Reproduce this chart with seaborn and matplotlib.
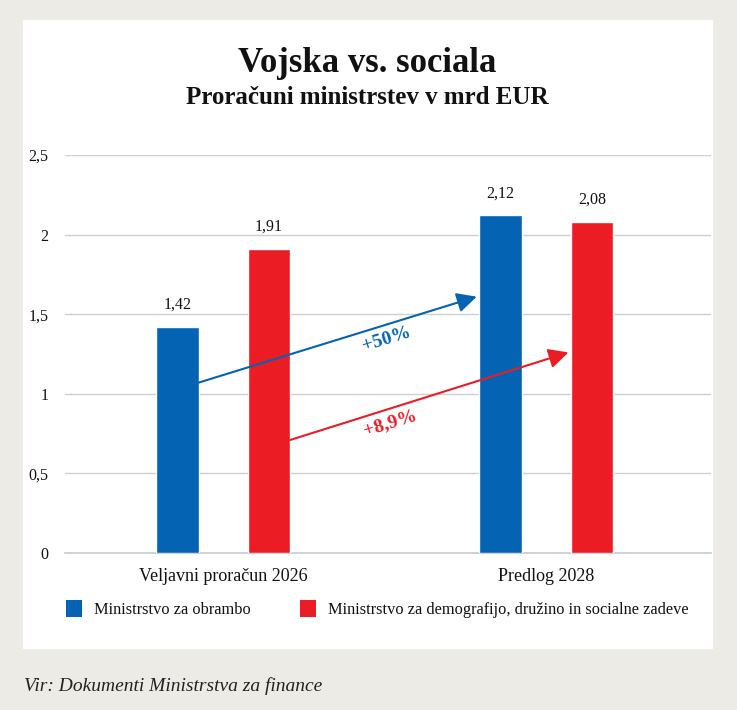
import matplotlib
matplotlib.use("Agg")
import matplotlib.pyplot as plt
from matplotlib.patches import Rectangle, Patch
import seaborn as sns
import pandas as pd

categories = ["Veljavni proračun 2026", "Predlog 2028"]
series_names = ["Ministrstvo za obrambo",
                "Ministrstvo za demografijo, družino in socialne zadeve"]
defence = [1.42, 2.12]
social = [1.91, 2.08]
changes = ["+50%", "+8,9%"]
yticks = [0, 0.5, 1, 1.5, 2, 2.5]
ytick_labels = ["0", "0,5", "1", "1,5", "2", "2,5"]

BLUE = "#0463b3"
RED = "#ec1c24"
BG = "#ecebe6"
SERIF = ["Liberation Serif", "DejaVu Serif"]

sns.set_theme(style="white")
plt.rcParams["font.family"] = SERIF

df = pd.DataFrame({
    "cat": categories * 2,
    "val": defence + social,
    "series": [series_names[0]] * 2 + [series_names[1]] * 2,
})

W, H = 737, 710
fig = plt.figure(figsize=(W / 100, H / 100), dpi=100, facecolor=BG)
# white panel
fig.patches.append(Rectangle((23 / W, 1 - 649 / H), (713 - 23) / W, (649 - 20) / H,
                             transform=fig.transFigure, facecolor="white",
                             edgecolor="none", zorder=-10))

ax = fig.add_axes([65 / W, 1 - 553 / H, (711 - 65) / W, (553 - 155) / H])
ax.set_zorder(1)
ax.set_facecolor("none")
sns.barplot(data=df, x="cat", y="val", hue="series", order=categories,
            hue_order=series_names, palette=[BLUE, RED], width=0.568, gap=0.54,
            saturation=1, ax=ax, legend=False, zorder=3)

ax.set_xlim(-0.49, 1.51)
ax.set_ylim(0, 2.5)
ax.set_yticks(yticks)
ax.set_yticklabels(ytick_labels)
ax.yaxis.grid(True, color="#cfcfcf", linewidth=1)
ax.set_axisbelow(True)
for s in ["top", "right", "left"]:
    ax.spines[s].set_visible(False)
ax.spines["bottom"].set_color("#c5cad3")
ax.spines["bottom"].set_linewidth(1.2)
ax.tick_params(axis="y", length=0, pad=12, labelsize=11.5, labelcolor="#111111")
ax.tick_params(axis="x", length=0, pad=11, labelsize=13, labelcolor="#111111")
ax.set_xlabel("")
ax.set_ylabel("")

# value labels
for cont in ax.containers:
    for bar in cont:
        h = bar.get_height()
        ax.text(bar.get_x() + bar.get_width() / 2, h + 0.09,
                f"{h:.2f}".replace(".", ","), ha="center", va="bottom",
                fontsize=11.5, color="#111111")

# change arrows
blue_bars = ax.containers[0]
red_bars = ax.containers[1]
b0, b1 = blue_bars[0], blue_bars[1]
r0, r1 = red_bars[0], red_bars[1]
ax.annotate("", xy=(b1.get_x() - 0.008, 1.61), xytext=(b0.get_x() + b0.get_width(), 1.07),
            arrowprops=dict(arrowstyle="-|>,head_length=0.6,head_width=0.3", color=BLUE,
                            lw=1.5, mutation_scale=20, shrinkA=0, shrinkB=0), zorder=5)
ax.annotate("", xy=(r1.get_x() - 0.008, 1.26), xytext=(r0.get_x() + r0.get_width(), 0.71),
            arrowprops=dict(arrowstyle="-|>,head_length=0.6,head_width=0.3", color=RED,
                            lw=1.5, mutation_scale=20, shrinkA=0, shrinkB=0), zorder=5)
ax.text(0.505, 1.345, changes[0], color=BLUE, fontsize=14, fontweight="bold",
        rotation=17, ha="center", va="center", rotation_mode="anchor", zorder=6)
ax.text(0.517, 0.815, changes[1], color=RED, fontsize=14, fontweight="bold",
        rotation=17, ha="center", va="center", rotation_mode="anchor", zorder=6)

# legend
handles = [Patch(facecolor=BLUE, edgecolor="none"), Patch(facecolor=RED, edgecolor="none")]
fig.legend(handles, series_names, loc="center left",
           bbox_to_anchor=(66 / W, 1 - 609 / H), ncol=2, frameon=False,
           borderpad=0, borderaxespad=0,
           handlelength=1.0, handleheight=1.2, handletextpad=0.7,
           columnspacing=3.0, fontsize=11.8, labelcolor="#111111")

# titles
fig.text(367 / W, 1 - 63 / H, "Vojska vs. sociala", ha="center", va="center",
         fontsize=25, fontweight="bold", color="#111111")
fig.text(367 / W, 1 - 97 / H, "Proračuni ministrstev v mrd EUR", ha="center",
         va="center", fontsize=18, fontweight="bold", color="#111111")
fig.text(24 / W, 1 - 686 / H, "Vir: Dokumenti Ministrstva za finance", ha="left",
         va="center", fontsize=14, fontstyle="italic", color="#222222")

fig.savefig("out.png", dpi=100, facecolor=BG)
